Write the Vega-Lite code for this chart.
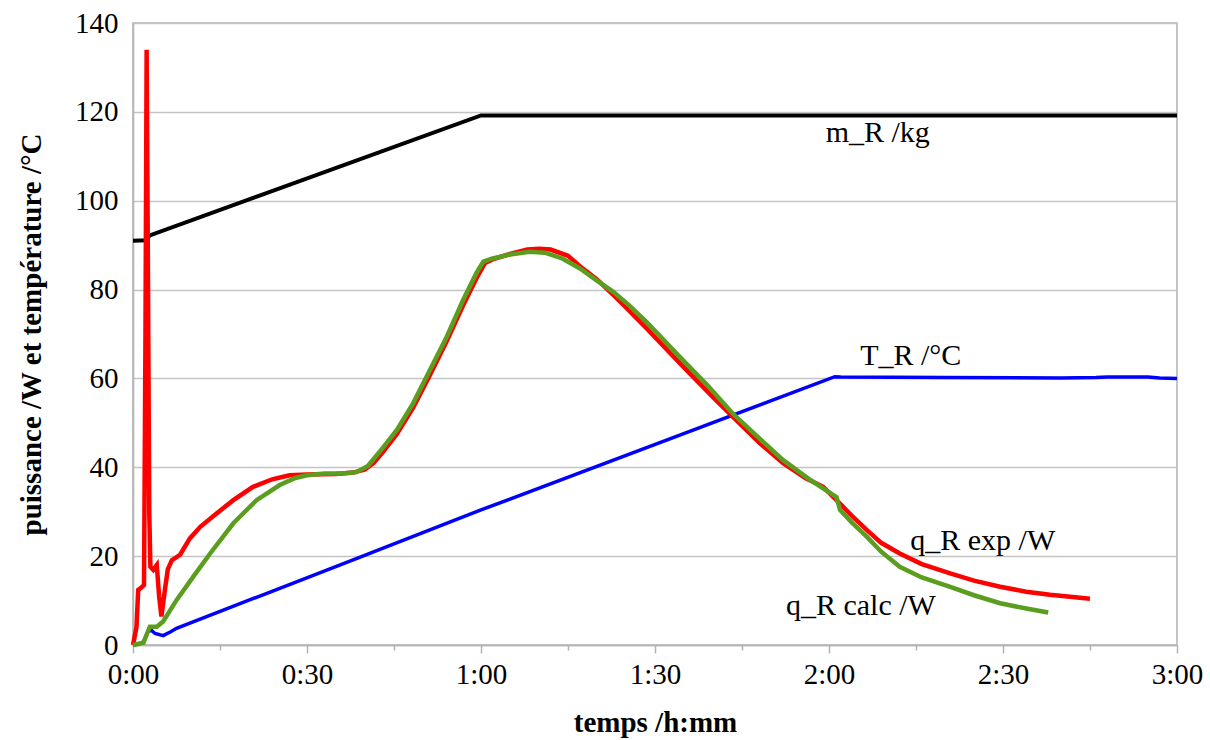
{
  "$schema": "https://vega.github.io/schema/vega-lite/v6.json",
  "width": 1044,
  "height": 622,
  "autosize": {"type": "none"},
  "padding": {"left": 133, "top": 23, "right": 33, "bottom": 95},
  "config": {
    "font": "Liberation Serif",
    "view": {"stroke": "#b3b3b3", "strokeWidth": 1.5},
    "axis": {"labelFont": "Liberation Serif", "titleFont": "Liberation Serif", "labelColor": "#000", "titleColor": "#000"}
  },
  "datasets": {
    "curves": [
      {"s": "T", "t": 0, "v": 0}, {"s": "T", "t": 1.0, "v": 0.2}, {"s": "T", "t": 1.8, "v": 0.7}, {"s": "T", "t": 2.6, "v": 3.1}, {"s": "T", "t": 3.2, "v": 3.3}, {"s": "T", "t": 3.8, "v": 2.6}, {"s": "T", "t": 5.2, "v": 2.1}, {"s": "T", "t": 6.5, "v": 3.0}, {"s": "T", "t": 7.5, "v": 3.75}, {"s": "T", "t": 37.4, "v": 18.9}, {"s": "T", "t": 60, "v": 30.4}, {"s": "T", "t": 121, "v": 60.4}, {"s": "T", "t": 122, "v": 60.3}, {"s": "T", "t": 140, "v": 60.2}, {"s": "T", "t": 160, "v": 60.1}, {"s": "T", "t": 166, "v": 60.2}, {"s": "T", "t": 168, "v": 60.3}, {"s": "T", "t": 175, "v": 60.3}, {"s": "T", "t": 177, "v": 60.1}, {"s": "T", "t": 180, "v": 60.0},
      {"s": "m", "t": 0, "v": 91}, {"s": "m", "t": 2.2, "v": 91.1}, {"s": "m", "t": 2.9, "v": 92.2}, {"s": "m", "t": 60, "v": 119.2}, {"s": "m", "t": 180, "v": 119.2},
      {"s": "exp", "t": 0, "v": 0}, {"s": "exp", "t": 0.6, "v": 4}, {"s": "exp", "t": 0.9, "v": 12.4}, {"s": "exp", "t": 1.5, "v": 13}, {"s": "exp", "t": 1.9, "v": 13.5}, {"s": "exp", "t": 2.15, "v": 70}, {"s": "exp", "t": 2.35, "v": 134}, {"s": "exp", "t": 2.55, "v": 90}, {"s": "exp", "t": 2.8, "v": 30}, {"s": "exp", "t": 3.0, "v": 17.6}, {"s": "exp", "t": 3.5, "v": 16.9}, {"s": "exp", "t": 4.1, "v": 18}, {"s": "exp", "t": 4.5, "v": 11}, {"s": "exp", "t": 4.9, "v": 6.4}, {"s": "exp", "t": 5.5, "v": 12.4}, {"s": "exp", "t": 6.0, "v": 17}, {"s": "exp", "t": 6.7, "v": 19.1}, {"s": "exp", "t": 8.1, "v": 20.3}, {"s": "exp", "t": 9.8, "v": 24}, {"s": "exp", "t": 11.6, "v": 26.6}, {"s": "exp", "t": 14.4, "v": 29.6}, {"s": "exp", "t": 17.3, "v": 32.6}, {"s": "exp", "t": 20.7, "v": 35.6}, {"s": "exp", "t": 24, "v": 37.3}, {"s": "exp", "t": 27, "v": 38.2}, {"s": "exp", "t": 30, "v": 38.4}, {"s": "exp", "t": 35, "v": 38.5}, {"s": "exp", "t": 38, "v": 38.8}, {"s": "exp", "t": 40, "v": 39.5}, {"s": "exp", "t": 41.5, "v": 41}, {"s": "exp", "t": 43, "v": 43.3}, {"s": "exp", "t": 45.5, "v": 47.5}, {"s": "exp", "t": 48.3, "v": 53.4}, {"s": "exp", "t": 51.2, "v": 60.8}, {"s": "exp", "t": 54.1, "v": 68.4}, {"s": "exp", "t": 56.9, "v": 76.4}, {"s": "exp", "t": 59.2, "v": 82.5}, {"s": "exp", "t": 60.7, "v": 86}, {"s": "exp", "t": 62, "v": 86.8}, {"s": "exp", "t": 65, "v": 88}, {"s": "exp", "t": 68, "v": 89}, {"s": "exp", "t": 70, "v": 89.2}, {"s": "exp", "t": 72, "v": 89}, {"s": "exp", "t": 75, "v": 87.6}, {"s": "exp", "t": 77, "v": 85.3}, {"s": "exp", "t": 80, "v": 82.3}, {"s": "exp", "t": 82.8, "v": 78.8}, {"s": "exp", "t": 85, "v": 76}, {"s": "exp", "t": 88.6, "v": 71.2}, {"s": "exp", "t": 94.9, "v": 62.6}, {"s": "exp", "t": 100, "v": 55.8}, {"s": "exp", "t": 103.4, "v": 51.4}, {"s": "exp", "t": 108, "v": 45.5}, {"s": "exp", "t": 112.1, "v": 40.9}, {"s": "exp", "t": 116, "v": 37.5}, {"s": "exp", "t": 119, "v": 35.6}, {"s": "exp", "t": 121.3, "v": 32.6}, {"s": "exp", "t": 124, "v": 29}, {"s": "exp", "t": 126.5, "v": 25.9}, {"s": "exp", "t": 129, "v": 23}, {"s": "exp", "t": 132.2, "v": 20.6}, {"s": "exp", "t": 136, "v": 18.2}, {"s": "exp", "t": 140.9, "v": 16.1}, {"s": "exp", "t": 145, "v": 14.5}, {"s": "exp", "t": 149.5, "v": 13.1}, {"s": "exp", "t": 154, "v": 12}, {"s": "exp", "t": 158.1, "v": 11.3}, {"s": "exp", "t": 162, "v": 10.8}, {"s": "exp", "t": 165, "v": 10.4},
      {"s": "calc", "t": 0, "v": 0}, {"s": "calc", "t": 1.8, "v": 0.5}, {"s": "calc", "t": 2.9, "v": 4.1}, {"s": "calc", "t": 4.1, "v": 4.1}, {"s": "calc", "t": 5.2, "v": 5.3}, {"s": "calc", "t": 7.5, "v": 10.1}, {"s": "calc", "t": 10.4, "v": 15.4}, {"s": "calc", "t": 13.3, "v": 20.6}, {"s": "calc", "t": 17.3, "v": 27.4}, {"s": "calc", "t": 21.3, "v": 32.6}, {"s": "calc", "t": 25.3, "v": 36}, {"s": "calc", "t": 28, "v": 37.6}, {"s": "calc", "t": 30, "v": 38.2}, {"s": "calc", "t": 33, "v": 38.6}, {"s": "calc", "t": 36, "v": 38.6}, {"s": "calc", "t": 38.5, "v": 38.9}, {"s": "calc", "t": 40.5, "v": 40.3}, {"s": "calc", "t": 42.6, "v": 43.6}, {"s": "calc", "t": 45.5, "v": 48.4}, {"s": "calc", "t": 48.3, "v": 54.4}, {"s": "calc", "t": 51.2, "v": 61.9}, {"s": "calc", "t": 54.1, "v": 69.4}, {"s": "calc", "t": 56.9, "v": 77.6}, {"s": "calc", "t": 59.2, "v": 83.7}, {"s": "calc", "t": 60.4, "v": 86.3}, {"s": "calc", "t": 62, "v": 87}, {"s": "calc", "t": 65, "v": 87.9}, {"s": "calc", "t": 68.4, "v": 88.5}, {"s": "calc", "t": 71, "v": 88.3}, {"s": "calc", "t": 74, "v": 87}, {"s": "calc", "t": 77, "v": 84.8}, {"s": "calc", "t": 80, "v": 82}, {"s": "calc", "t": 82.8, "v": 79.5}, {"s": "calc", "t": 85.5, "v": 76.5}, {"s": "calc", "t": 88.6, "v": 72.6}, {"s": "calc", "t": 94.3, "v": 64.8}, {"s": "calc", "t": 99, "v": 58.5}, {"s": "calc", "t": 103.4, "v": 52.1}, {"s": "calc", "t": 108, "v": 46.5}, {"s": "calc", "t": 112.1, "v": 41.6}, {"s": "calc", "t": 116.5, "v": 37.4}, {"s": "calc", "t": 120.7, "v": 33.8}, {"s": "calc", "t": 121.3, "v": 33.3}, {"s": "calc", "t": 121.9, "v": 30.4}, {"s": "calc", "t": 124, "v": 27.5}, {"s": "calc", "t": 126.5, "v": 24.4}, {"s": "calc", "t": 129, "v": 21}, {"s": "calc", "t": 132.2, "v": 17.6}, {"s": "calc", "t": 136, "v": 15.2}, {"s": "calc", "t": 140.9, "v": 13.1}, {"s": "calc", "t": 145, "v": 11.2}, {"s": "calc", "t": 149.5, "v": 9.4}, {"s": "calc", "t": 154, "v": 8.2}, {"s": "calc", "t": 157.8, "v": 7.3}
    ],
    "labels": [
      {"label": "m_R /kg", "t": 128.4, "v": 113.2},
      {"label": "T_R /°C", "t": 134.1, "v": 63.0},
      {"label": "q_R exp /W", "t": 146.5, "v": 21.4},
      {"label": "q_R calc /W", "t": 125.5, "v": 6.75}
    ]
  },
  "encoding": {
    "x": {
      "field": "t", "type": "quantitative",
      "scale": {"domain": [0, 180], "nice": false, "zero": false},
      "axis": {
        "title": "temps /h:mm",
        "values": [0, 15, 30, 45, 60, 75, 90, 105, 120, 135, 150, 165, 180],
        "labelExpr": "datum.value % 30 === 0 ? (floor(datum.value / 60) + ':' + (datum.value % 60 < 10 ? '0' : '') + (datum.value % 60)) : ''",
        "grid": false,
        "domainColor": "#b3b3b3", "domainWidth": 1.5,
        "tickColor": "#b3b3b3", "tickWidth": 1.5,
        "tickSize": {"condition": {"test": "datum.value % 30 === 0", "value": 8}, "value": 5},
        "labelFontSize": 29, "labelPadding": 7, "labelFlush": false,
        "titleFontSize": 29, "titleFontWeight": "bold",
        "titleY": 86, "titleBaseline": "alphabetic"
      }
    },
    "y": {
      "field": "v", "type": "quantitative",
      "scale": {"domain": [0, 140], "nice": false},
      "axis": {
        "title": "puissance /W et température /°C",
        "values": [0, 20, 40, 60, 80, 100, 120, 140],
        "grid": true, "gridColor": "#c4c4c4", "gridWidth": 1.5,
        "ticks": false,
        "domainColor": "#b3b3b3", "domainWidth": 1.5,
        "labelFontSize": 29, "labelPadding": 15,
        "titleFontSize": 29, "titleFontWeight": "bold",
        "titleAngle": -90, "titleX": -93, "titleY": 311, "titleBaseline": "alphabetic", "titleAlign": "center"
      }
    }
  },
  "layer": [
    {"data": {"name": "curves"}, "transform": [{"filter": "datum.s === 'T'"}], "mark": {"type": "line", "color": "#0000ff", "strokeWidth": 3.5}},
    {"data": {"name": "curves"}, "transform": [{"filter": "datum.s === 'm'"}], "mark": {"type": "line", "color": "#000000", "strokeWidth": 4}},
    {"data": {"name": "curves"}, "transform": [{"filter": "datum.s === 'exp'"}], "mark": {"type": "line", "color": "#ff0000", "strokeWidth": 4.5}},
    {"data": {"name": "curves"}, "transform": [{"filter": "datum.s === 'calc'"}], "mark": {"type": "line", "color": "#5b9e1f", "strokeWidth": 4.5}},
    {"data": {"name": "labels"}, "mark": {"type": "text", "font": "Liberation Serif", "fontSize": 30, "align": "center", "baseline": "alphabetic", "color": "#000"}, "encoding": {"text": {"field": "label"}}}
  ]
}
